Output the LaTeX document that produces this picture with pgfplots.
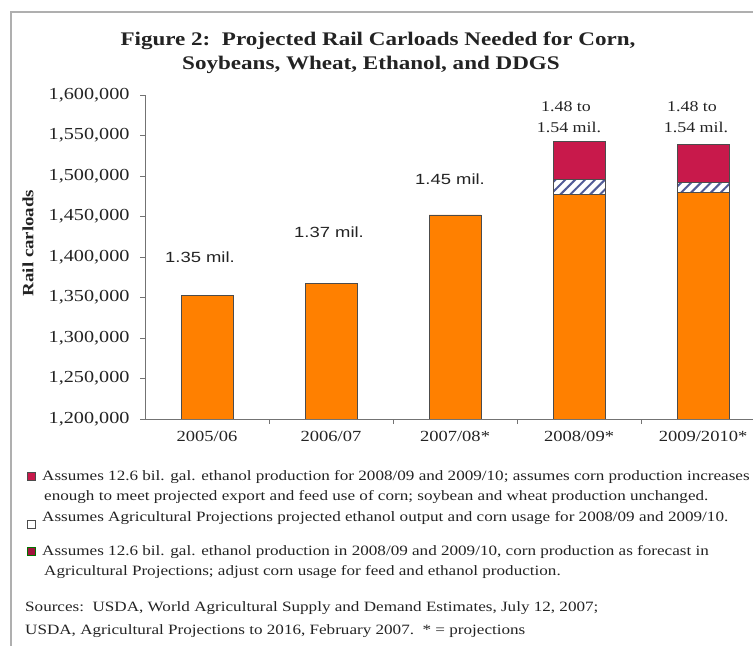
\documentclass[border=0pt]{standalone}
\usepackage{fontspec}
\setmainfont{Liberation Serif}[FakeStretch=1.2]
\newfontfamily\arialf{Liberation Sans}[FakeStretch=1.25]
\usepackage{pgfplots}
\pgfplotsset{compat=1.18}
\usetikzlibrary{patterns.meta}
\definecolor{orangebar}{RGB}{255,128,0}
\definecolor{crimsonbar}{RGB}{200,25,75}
\definecolor{hatchc}{RGB}{80,90,150}
\definecolor{txt}{RGB}{35,35,35}
\definecolor{framec}{RGB}{175,175,175}
\begin{document}
\begin{tikzpicture}[x=1bp,y=1bp]
\useasboundingbox (0,0) rectangle (753,646);
% frame
\draw[framec, line width=1.5bp] (11,0) -- (11,634) -- (753,634);
% title
\node[anchor=base, text=txt, font=\fontsize{19.3}{22}\selectfont\bfseries] at (378,600) {Figure 2:\ \ Projected Rail Carloads Needed for Corn,};
\node[anchor=base, text=txt, font=\fontsize{19.3}{22}\selectfont\bfseries] at (371,576) {Soybeans, Wheat, Ethanol, and DDGS};
% y label
\node[rotate=90, text=txt, font=\fontsize{15.8}{18}\selectfont\bfseries] at (28,403) {Rail carloads};
\begin{axis}[
  at={(145bp,227bp)}, anchor=south west,
  scale only axis, width=608bp, height=324bp,
  xmin=-0.5, xmax=4.403, ymin=1200000, ymax=1600000,
  clip mode=individual,
  axis x line*=bottom, axis y line*=left,
  axis line style={draw=black!55, line width=0.8bp},
  ytick={1200000,1250000,1300000,1350000,1400000,1450000,1500000,1550000,1600000},
  scaled y ticks=false,
  xtick={0,1,2,3,4},
  xticklabels={2005/06,2006/07,2007/08*,2008/09*,2009/2010*},
  minor xtick={0.5,1.5,2.5,3.5},
  major x tick style={draw=none},
  minor x tick style={draw=black!55, line width=0.6bp},
  minor tick length=5bp,
  y tick style={draw=black!55, line width=0.6bp},
  major tick length=5bp,
  tick align=outside,
  y tick label style={font=\fontsize{16.9}{18}\selectfont, text=txt, xshift=-7bp},
  x tick label style={font=\fontsize{15.5}{18}\selectfont, text=txt, yshift=-4bp},
  /pgf/number format/.cd, fixed, 1000 sep={,}, assume math mode=true,
]
\addplot[ybar, bar width=52bp, bar shift=0pt, fill=crimsonbar, draw=black!70, line width=0.7bp]
  coordinates {(3,1543000) (4,1539000)};
\addplot[ybar, bar width=52bp, bar shift=0pt, fill=white, draw=black!70, line width=0.7bp,
  postaction={pattern={Lines[angle=45,distance=7bp,line width=2bp]}, pattern color=hatchc}]
  coordinates {(3,1496000) (4,1492000)};
\addplot[ybar, bar width=52bp, bar shift=0pt, fill=orangebar, draw=black!70, line width=0.7bp]
  coordinates {(0,1353000) (1,1367000) (2,1452000) (3,1477000) (4,1480000)};
\end{axis}
% bar labels
\begin{scope}[every node/.style={anchor=base, text=txt}]
\node[font=\fontsize{14.8}{17}\selectfont\arialf] at (200,383) {1.35 mil.};
\node[font=\fontsize{14.8}{17}\selectfont\arialf] at (329,408) {1.37 mil.};
\node[font=\fontsize{14.8}{17}\selectfont\arialf] at (450,461) {1.45 mil.};
\node[font=\fontsize{15}{17}\selectfont] at (566,534) {1.48 to};
\node[font=\fontsize{15}{17}\selectfont] at (569,513) {1.54 mil.};
\node[font=\fontsize{15}{17}\selectfont] at (692,534) {1.48 to};
\node[font=\fontsize{15}{17}\selectfont] at (696,513) {1.54 mil.};
\end{scope}
% notes
\begin{scope}[every node/.style={anchor=base west, text=txt, inner sep=0pt, font=\fontsize{14.3}{17}\selectfont}]
\filldraw[fill=crimsonbar, draw=black!70, line width=0.6bp] (27,166) rectangle (35,174);
\node at (42,165) {Assumes 12.6 bil. gal. ethanol production for 2008/09 and 2009/10; assumes corn production increases};
\node at (44,145) {enough to meet projected export and feed use of corn; soybean and wheat production unchanged.};
\filldraw[fill=white, draw=black!70, line width=0.6bp] (27,118) rectangle (35,126);
\node at (42,124) {Assumes Agricultural Projections projected ethanol output and corn usage for 2008/09 and 2009/10.};
\filldraw[fill=crimsonbar!80!black, draw=green!45!black, line width=1bp] (27,90) rectangle (35,98);
\node at (42,90) {Assumes 12.6 bil. gal. ethanol production in 2008/09 and 2009/10, corn production as forecast in};
\node at (44,70) {Agricultural Projections; adjust corn usage for feed and ethanol production.};
\node at (25,34) {Sources:\ \ USDA, World Agricultural Supply and Demand Estimates, July 12, 2007;};
\node at (25,11) {USDA, Agricultural Projections to 2016, February 2007.\ \ * = projections};
\end{scope}
\end{tikzpicture}
\end{document}
